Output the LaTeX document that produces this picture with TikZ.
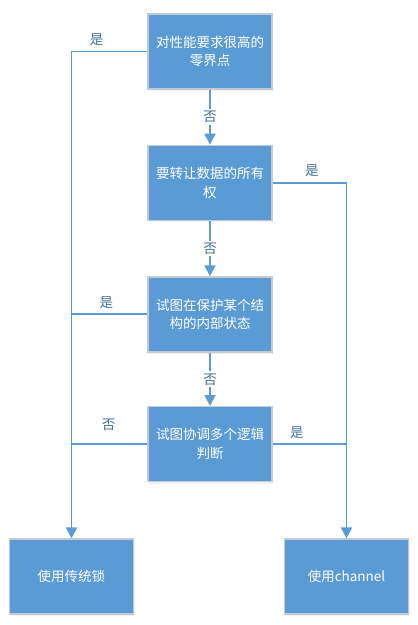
\documentclass[tikz,border=0pt]{standalone}
\usepackage{fontspec}
\setmainfont{Noto Sans CJK SC}
\usetikzlibrary{arrows.meta, positioning, shadows}
\definecolor{boxblue}{HTML}{5B9BD5}
\definecolor{boxedge}{HTML}{C3CAD2}
\definecolor{textblue}{HTML}{41719C}

\begin{document}
\begin{tikzpicture}[
  node distance=55pt,
  decision/.style={draw=boxedge, line width=1.2pt, fill=boxblue, text=white, align=center, minimum width=124pt, minimum height=75pt, font=\fontsize{13.5}{18.5}\selectfont, drop shadow={opacity=0.12, shadow xshift=1pt, shadow yshift=-2pt}},
  result/.style={decision},
  arrow/.style={-{Triangle[width=11pt,length=11pt]}, draw=boxblue, line width=1.9pt},
  link/.style={draw=boxblue, line width=1.9pt},
  answer/.style={font=\fontsize{13.5}{15}\selectfont, text=textblue, inner sep=2pt},
  cut/.style={answer, fill=white}
]
\useasboundingbox (0,0) rectangle (418pt,-625pt);
\node[decision] (zero) at (210pt,-51.5pt) {对性能要求很高的\\零界点};
\node[decision, below=55pt of zero] (owner) {要转让数据的所有\\权};
\node[decision, below=55.5pt of owner] (guard) {试图在保护某个结\\构的内部状态};
\node[decision, below=53.5pt of guard] (logic) {试图协调多个逻辑\\判断};
\node[result] (lock) at (71.5pt,-576.5pt) {使用传统锁};
\node[result] (chan) at (346.5pt,-576.5pt) {使用channel};

\draw[arrow] (zero) -- node[cut]{否} (owner);
\draw[arrow] (owner) -- node[cut]{否} (guard);
\draw[arrow] (guard) -- node[cut]{否} (logic);
\draw[arrow] (zero.west) -- node[answer, above, pos=0.67, yshift=3pt]{是} (zero.west -| lock.north) -- (lock.north);
\draw[arrow] (owner.east) -- node[answer, above, pos=0.53, yshift=3pt]{是} (owner.east -| chan.north) -- (chan.north);
\draw[link] (guard.west) -- node[answer, above, pos=0.54, yshift=3pt]{是} (guard.west -| lock.north);
\draw[link] (logic.west) -- node[answer, above, pos=0.51, yshift=11pt]{否} (logic.west -| lock.north);
\draw[link] (logic.east) -- node[answer, above, pos=0.33, yshift=3pt]{是} (logic.east -| chan.north);
\end{tikzpicture}
\end{document}
